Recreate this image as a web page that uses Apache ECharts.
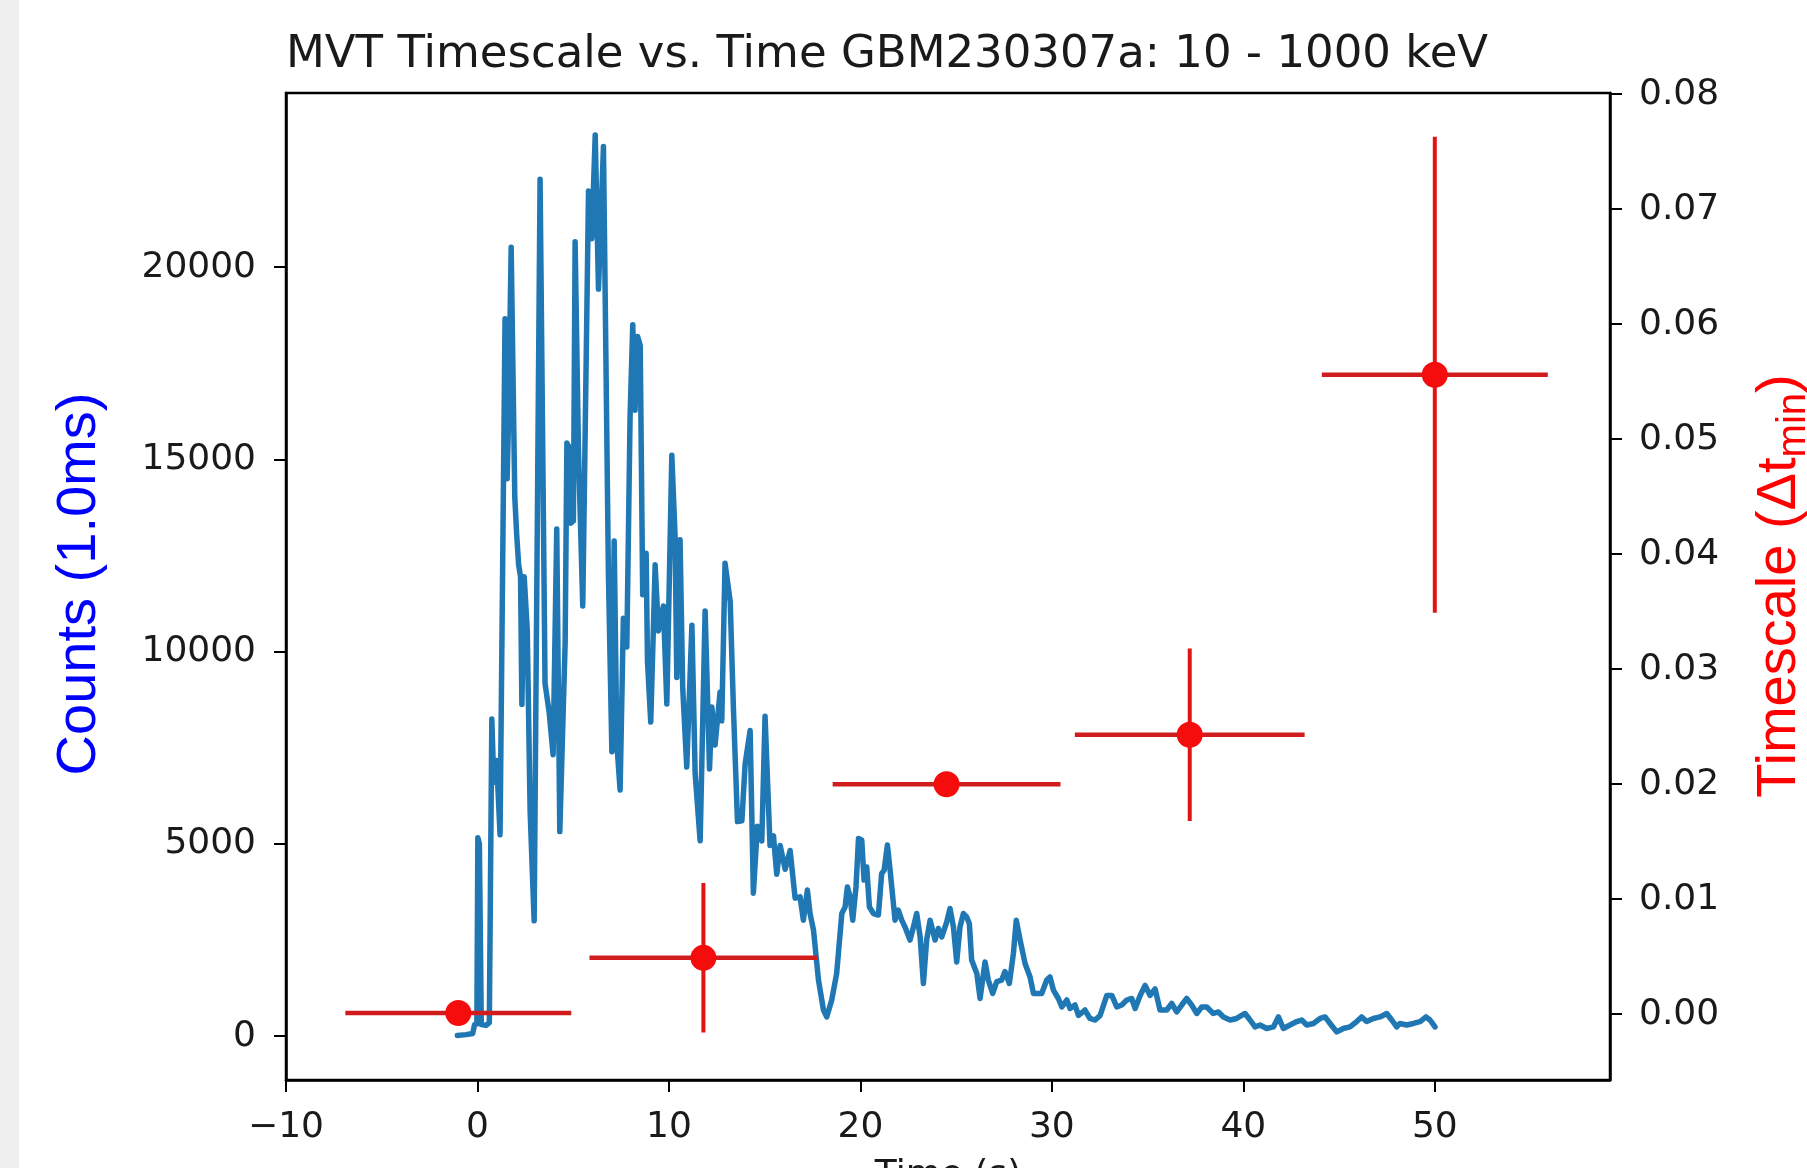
<!DOCTYPE html>
<html>
<head>
<meta charset="utf-8">
<title>MVT Timescale vs. Time GBM230307a</title>
<script src="https://cdn.jsdelivr.net/npm/echarts@6/dist/echarts.min.js"></script>
<style>
  html, body { margin: 0; padding: 0; background: #fff; }
  #chart { width: 1807px; height: 1168px; }
</style>
</head>
<body>
<div id="chart"></div>
<script>
// light curve (counts per 1.0 ms bin)
var lcTime = [
  -1.05, -0.6, -0.25, -0.15, -0.03, 0.02, 0.1, 0.2, 0.45, 0.62,
  0.75, 0.85, 1.0, 1.18, 1.44, 1.55, 1.62, 1.76, 1.95, 2.05,
  2.15, 2.25, 2.32, 2.44, 2.6, 2.75, 2.96, 3.27, 3.53, 3.75,
  3.95, 4.14, 4.3, 4.58, 4.67, 4.75, 4.87, 5.01, 5.1, 5.28,
  5.5, 5.8, 5.97, 6.15, 6.32, 6.58, 6.84, 7.02, 7.14, 7.28,
  7.45, 7.62, 7.8, 7.97, 8.11, 8.23, 8.36, 8.5, 8.63, 8.81,
  8.88, 9.05, 9.28, 9.45, 9.71, 9.89, 10.15, 10.32, 10.41, 10.58,
  10.72, 10.93, 11.2, 11.37, 11.63, 11.89, 12.12, 12.24, 12.41, 12.67,
  12.76, 12.93, 13.2, 13.37, 13.58, 13.81, 13.98, 14.24, 14.41, 14.62,
  14.85, 15.02, 15.28, 15.46, 15.63, 15.81, 16.07, 16.33, 16.59, 16.85,
  17.02, 17.23, 17.37, 17.55, 17.81, 18.07, 18.24, 18.5, 18.76, 19.03,
  19.2, 19.32, 19.46, 19.6, 19.77, 19.9, 20.07, 20.19, 20.33, 20.47,
  20.68, 20.94, 21.11, 21.24, 21.41, 21.55, 21.81, 21.98, 22.16, 22.33,
  22.59, 22.77, 22.94, 23.12, 23.29, 23.46, 23.64, 23.9, 24.07, 24.25,
  24.51, 24.68, 24.86, 25.03, 25.2, 25.38, 25.55, 25.69, 25.81, 26.08,
  26.25, 26.51, 26.68, 26.91, 27.12, 27.38, 27.55, 27.78, 27.99, 28.14,
  28.34, 28.6, 28.86, 29.04, 29.47, 29.73, 29.9, 30.08, 30.34, 30.52,
  30.78, 30.95, 31.21, 31.39, 31.73, 31.99, 32.26, 32.52, 32.87, 33.13,
  33.39, 33.65, 33.91, 34.17, 34.35, 34.61, 34.87, 35.13, 35.39, 35.65,
  36.0, 36.26, 36.52, 36.78, 37.04, 37.3, 37.57, 37.83, 38.09, 38.43,
  38.7, 38.96, 39.31, 39.65, 40.09, 40.35, 40.61, 40.87, 41.22, 41.57,
  41.83, 42.09, 42.44, 42.79, 43.05, 43.31, 43.66, 44.01, 44.27, 44.53,
  44.88, 45.22, 45.57, 45.92, 46.18, 46.44, 46.79, 47.14, 47.49, 47.75,
  48.01, 48.18, 48.53, 48.88, 49.23, 49.54, 49.75, 50.01
];
var lcCounts = [
  20, 40, 70, 300, 320, 5160, 5000, 300, 280, 350,
  8250, 6600, 7170, 5240, 18660, 14500, 16000, 20520, 14000, 13030,
  12260, 11950, 8630, 11950, 10560, 5850, 3000, 22290, 9170, 8400,
  7320, 13190, 5320, 10250, 15430, 15350, 13340, 13400, 20660, 15100,
  11190, 21980, 20740, 23440, 19430, 23140, 12000, 7400, 12880, 7610,
  6400, 10870, 10120, 16110, 18500, 16280, 18200, 17960, 11480, 12560,
  9740, 8170, 12260, 10540, 11190, 8640, 15110, 13020, 9330, 12910,
  9050, 7000, 10690, 6820, 5080, 11060, 6950, 8560, 7570, 8950,
  8200, 12300, 11300, 8500, 5580, 5600, 7080, 7950, 3720, 5460,
  5080, 8320, 4960, 5210, 4210, 4960, 4340, 4830, 3590, 3625,
  3017, 3800, 3190, 2760, 1460, 680, 500, 935, 1630, 3190,
  3360, 3880, 3625, 3017, 3880, 5140, 5100, 4060, 4400, 3360,
  3190, 3150, 4230, 4320, 4970, 4320, 3017, 3280, 3017, 2840,
  2500, 2840, 3190, 2580, 1370, 2500, 3017, 2500, 2800, 2580,
  2970, 3320, 2840, 1930, 2840, 3190, 3100, 2930, 1980, 1630,
  980, 1930, 1460, 1110, 1420, 1460, 1680, 1370, 2150, 3017,
  2500, 1890, 1540, 1110, 1110, 1460, 1540, 1200, 980, 760,
  940, 720, 810, 540, 680, 460, 420, 540, 1060, 1060,
  760, 810, 940, 980, 720, 1060, 1320, 1060, 1230, 680,
  680, 850, 630, 810, 980, 810, 590, 760, 760, 590,
  630, 500, 420, 460, 590, 420, 240, 290, 200, 240,
  500, 200, 290, 380, 420, 290, 330, 460, 500, 330,
  110, 200, 240, 380, 500, 380, 460, 500, 590, 420,
  240, 330, 290, 330, 380, 500, 420, 240
];

// minimum variability timescale per time bin, with errors
var mvtTime = [-1.0, 11.8, 24.5, 37.2, 50.0];
var mvtTimeErr = [5.9, 5.95, 5.95, 6.0, 5.9];
var mvtScale = [0.0001, 0.0049, 0.0200, 0.0243, 0.0556];
var mvtScaleErr = [0.0003, 0.0065, 0.0004, 0.0075, 0.0207];

// tick labels
var xTicks = [-10, 0, 10, 20, 30, 40, 50];
var countTicks = [0, 5000, 10000, 15000, 20000];
var scaleTicks = [0, 0.01, 0.02, 0.03, 0.04, 0.05, 0.06, 0.07, 0.08];

var tickFont = 'DejaVu Sans';
var inkColor = '#1a1a1a';

var chart = echarts.init(document.getElementById('chart'), null, { renderer: 'canvas' });

function axisCommon() {
  return {
    axisLine: { show: true, onZero: false, lineStyle: { color: '#000', width: 2.5 } },
    splitLine: { show: false }
  };
}

var lcData = lcTime.map(function (t, i) { return [t, lcCounts[i]]; });
var mvtData = mvtTime.map(function (t, i) {
  return [t, mvtScale[i], mvtTimeErr[i], mvtScaleErr[i]];
});

chart.setOption({
  animation: false,
  backgroundColor: '#fff',
  title: {
    text: 'MVT Timescale vs. Time GBM230307a: 10 - 1000 keV',
    left: 281,
    top: 28,
    textStyle: { fontFamily: tickFont, fontSize: 45, fontWeight: 'normal', color: inkColor }
  },
  grid: {
    left: 286, top: 93, width: 1324, height: 987,
    show: true, borderColor: '#000', borderWidth: 2.5, backgroundColor: '#fff'
  },
  xAxis: Object.assign(axisCommon(), {
    type: 'value',
    min: -10,
    max: 59.15,
    axisTick: { show: true, length: 12, customValues: xTicks, lineStyle: { color: '#000', width: 2 } },
    axisLabel: {
      customValues: xTicks,
      margin: 30,
      fontFamily: tickFont, fontSize: 36, color: inkColor,
      formatter: function (v) { return v < 0 ? '\u2212' + Math.abs(v) : String(v); }
    }
  }),
  yAxis: [
    Object.assign(axisCommon(), {
      type: 'value',
      position: 'left',
      min: -1140,
      max: 24530,
      axisTick: { show: true, length: 12, customValues: countTicks, lineStyle: { color: '#000', width: 2 } },
      axisLabel: {
        customValues: countTicks,
        margin: 30,
        fontFamily: tickFont, fontSize: 36, color: inkColor,
        formatter: function (v) { return String(v); }
      }
    }),
    Object.assign(axisCommon(), {
      type: 'value',
      position: 'right',
      min: -0.00572,
      max: 0.0801,
      axisTick: { show: true, length: 12, customValues: scaleTicks, lineStyle: { color: '#000', width: 2 } },
      axisLabel: {
        customValues: scaleTicks,
        margin: 29,
        fontFamily: tickFont, fontSize: 36, color: inkColor,
        formatter: function (v) { return v.toFixed(2); }
      }
    })
  ],
  graphic: [
    { type: 'rect', x: 0, y: 0, shape: { width: 19, height: 1168 }, style: { fill: '#efefef' }, z: -10 },
    {
      type: 'text', x: 80, y: 584, rotation: Math.PI / 2,
      style: {
        text: 'Counts (1.0ms)', fill: '#0000ff',
        fontFamily: 'Liberation Sans', fontSize: 56,
        align: 'center', verticalAlign: 'middle'
      }
    },
    {
      type: 'text', x: 1780, y: 586, rotation: Math.PI / 2,
      style: {
        text: '{a|Timescale (\u0394t}{s|min}{a|)}',
        align: 'center', verticalAlign: 'middle',
        rich: {
          a: { fill: '#ff0000', fontFamily: 'Liberation Sans', fontSize: 56, lineHeight: 68, verticalAlign: 'middle' },
          s: { fill: '#ff0000', fontFamily: 'Liberation Sans', fontSize: 40, lineHeight: 68, verticalAlign: 'bottom' }
        }
      }
    },
    {
      type: 'text', x: 948, y: 1158,
      style: {
        text: 'Time (s)', fill: inkColor,
        fontFamily: tickFont, fontSize: 36,
        align: 'center', verticalAlign: 'top'
      }
    }
  ],
  series: [
    {
      name: 'Counts',
      type: 'line',
      xAxisIndex: 0,
      yAxisIndex: 0,
      data: lcData,
      showSymbol: false,
      symbol: 'none',
      lineStyle: { color: '#1f77b4', width: 5.5, join: 'round', cap: 'round' },
      z: 2
    },
    {
      name: 'MVT error',
      type: 'custom',
      xAxisIndex: 0,
      yAxisIndex: 1,
      data: mvtData,
      encode: { x: 0, y: 1 },
      renderItem: function (params, api) {
        var x = api.value(0), y = api.value(1), dx = api.value(2), dy = api.value(3);
        var l = api.coord([x - dx, y]);
        var r = api.coord([x + dx, y]);
        var t = api.coord([x, y + dy]);
        var b = api.coord([x, y - dy]);
        return {
          type: 'group',
          children: [
            { type: 'line', shape: { x1: l[0], y1: l[1], x2: r[0], y2: r[1] }, style: { stroke: '#d01c1c', lineWidth: 4.5 } },
            { type: 'line', shape: { x1: t[0], y1: t[1], x2: b[0], y2: b[1] }, style: { stroke: '#e31414', lineWidth: 4 } }
          ]
        };
      },
      z: 3
    },
    {
      name: 'MVT',
      type: 'scatter',
      xAxisIndex: 0,
      yAxisIndex: 1,
      data: mvtTime.map(function (t, i) { return [t, mvtScale[i]]; }),
      symbol: 'circle',
      symbolSize: 26,
      itemStyle: { color: '#f50d0d', opacity: 1 },
      z: 4
    }
  ]
});
</script>
</body>
</html>
